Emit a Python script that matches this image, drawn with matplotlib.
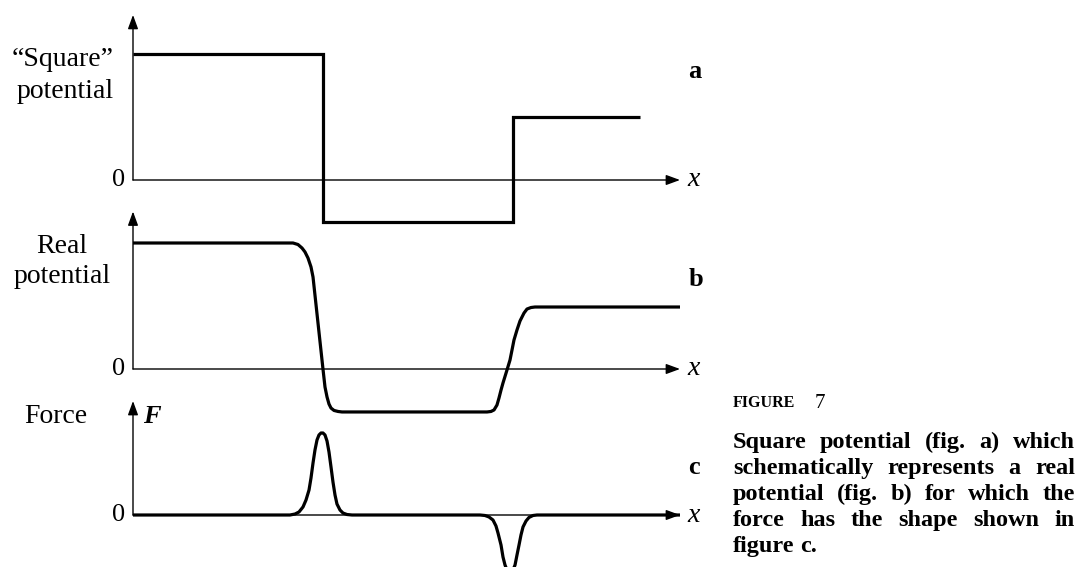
import numpy as np
import matplotlib
matplotlib.use('Agg')
import matplotlib.pyplot as plt

# Data (x in arbitrary length units, axis at 0, arrow tip at 10)

# fig a: square potential, step edges and levels
square_edges = [0.0, 3.47, 6.95, 9.27]
square_levels = [1.0, -0.33, 0.5]

# fig b: real potential
real_x = [0.0, 2.925, 3.016, 3.090, 3.144, 3.199, 3.254, 3.291, 3.382, 3.473,
          3.510, 3.547, 3.583, 3.620, 3.675, 3.748, 3.821,
          6.472, 6.545, 6.600, 6.654, 6.691, 6.728, 6.764, 6.837, 6.892, 6.929,
          6.965, 7.020, 7.075, 7.148, 7.203, 7.276, 7.349, 10.0]
real_v = [1.0, 1.0, 0.988, 0.960, 0.929, 0.881, 0.810, 0.730, 0.365, 0.0,
          -0.143, -0.222, -0.278, -0.310, -0.329, -0.337, -0.341,
          -0.341, -0.337, -0.325, -0.286, -0.230, -0.167, -0.111, -0.008, 0.071,
          0.151, 0.230, 0.310, 0.381, 0.444, 0.476, 0.488, 0.492, 0.492]

# fig c: force
force_x = [0.0, 2.870, 2.962, 3.035, 3.108, 3.163, 3.218, 3.254, 3.291, 3.327,
           3.364, 3.400, 3.437, 3.473, 3.510, 3.547, 3.583, 3.620, 3.656,
           3.693, 3.729, 3.784, 3.839, 3.912, 4.004,
           6.344, 6.435, 6.508, 6.581, 6.636, 6.673, 6.728, 6.764, 6.801,
           6.837, 6.892, 6.947, 6.984, 7.020, 7.057, 7.093, 7.130, 7.185,
           7.239, 7.313, 7.386, 10.0]
force_f = [0.0, 0.0, 0.012, 0.037, 0.098, 0.183, 0.305, 0.451, 0.634, 0.793,
           0.915, 0.976, 1.0, 1.0, 0.976, 0.902, 0.768, 0.585, 0.402,
           0.244, 0.134, 0.061, 0.024, 0.006, 0.0,
           0.0, -0.006, -0.024, -0.061, -0.134, -0.220, -0.366, -0.512, -0.610,
           -0.671, -0.695, -0.671, -0.610, -0.488, -0.366, -0.244, -0.146, -0.073,
           -0.030, -0.006, 0.0, 0.0]

panel_letters = ['a', 'b', 'c']
caption_lines = ['Square potential (fig. a) which',
                 'schematically represents a real',
                 'potential (fig. b) for which the',
                 'force has the shape shown in',
                 'figure c.']

W, H = 1080, 567
X0, X1 = 133, 680          # pixel span of the x axes
plt.rcParams['font.family'] = ['Liberation Serif', 'DejaVu Serif']

fig = plt.figure(figsize=(W / 100, H / 100), dpi=100)


def add_panel(zero_px, unit_px, ylo, yhi):
    top = zero_px - yhi * unit_px
    bot = zero_px - ylo * unit_px
    ax = fig.add_axes([X0 / W, 1 - bot / H, (X1 - X0) / W, (bot - top) / H])
    ax.set_xlim(0, 10)
    ax.set_ylim(ylo, yhi)
    ax.axis('off')
    ax.patch.set_visible(False)
    return ax


def axes_arrows(ax, ytop):
    st = '-|>,head_length=0.6,head_width=0.22'
    kw = dict(arrowstyle=st, lw=1.0, color='black', mutation_scale=14,
              shrinkA=0, shrinkB=0)
    ax.annotate('', xy=(10, 0), xytext=(0, 0), arrowprops=kw, annotation_clip=False)
    ax.annotate('', xy=(0, ytop), xytext=(0, 0), arrowprops=kw, annotation_clip=False)
    ax.text(10.13, 0, 'x', style='italic', fontsize=20, ha='left', va='center',
            clip_on=False)
    ax.text(-0.15, 0, '0', fontsize=19, ha='right', va='center', clip_on=False)


lw = 2.3
ax_a = add_panel(180, 126, -0.4, 1.31)
axes_arrows(ax_a, 1.31)
ax_a.stairs(square_levels, square_edges, baseline=None, color='black', lw=lw)
ax_a.text(10.15, 0.865, panel_letters[0], fontsize=19, fontweight='bold',
          ha='left', va='center', clip_on=False)

ax_b = add_panel(369, 126, -0.4, 1.25)
axes_arrows(ax_b, 1.25)
ax_b.plot(real_x, real_v, color='black', lw=lw, solid_joinstyle='round')
ax_b.text(10.15, 0.71, panel_letters[1], fontsize=19, fontweight='bold',
          ha='left', va='center', clip_on=False)

ax_c = add_panel(515, 82, -0.634, 1.39)
axes_arrows(ax_c, 1.39)
ax_c.plot(force_x, force_f, color='black', lw=lw, solid_joinstyle='round')
ax_c.text(10.15, 0.585, panel_letters[2], fontsize=19, fontweight='bold',
          ha='left', va='center', clip_on=False)
ax_c.text(0.18, 1.12, 'F', fontsize=19, fontweight='bold', style='italic',
          ha='left', va='baseline', clip_on=False)


def ftext(px, py, s, **kw):
    return fig.text(px / W, 1 - py / H, s, **kw)


# y labels
ftext(63, 66, '\u201cSquare\u201d', fontsize=20, ha='center', va='baseline')
ftext(65, 98, 'potential', fontsize=20, ha='center', va='baseline')
ftext(62, 253, 'Real', fontsize=20, ha='center', va='baseline')
ftext(62, 283, 'potential', fontsize=20, ha='center', va='baseline')
ftext(56, 423, 'Force', fontsize=20, ha='center', va='baseline')

# caption
ftext(733, 407, 'FIGURE', fontsize=11.5, fontweight='bold', va='baseline')
ftext(815, 408, '7', fontsize=15, va='baseline')

renderer = fig.canvas.get_renderer()
left, right = 733, 1075
for i, line in enumerate(caption_lines):
    base = 448 + 26 * i
    words = line.split()
    texts = [ftext(0, base, w, fontsize=17.5, fontweight='bold', va='baseline')
             for w in words]
    widths = [t.get_window_extent(renderer).width for t in texts]
    if i < len(caption_lines) - 1 and len(words) > 1:
        gap = (right - left - sum(widths)) / (len(words) - 1)
    else:
        gap = 6
    x = left
    for t, w in zip(texts, widths):
        t.set_x(x / W)
        x += w + gap

fig.savefig('out.png', dpi=100)
